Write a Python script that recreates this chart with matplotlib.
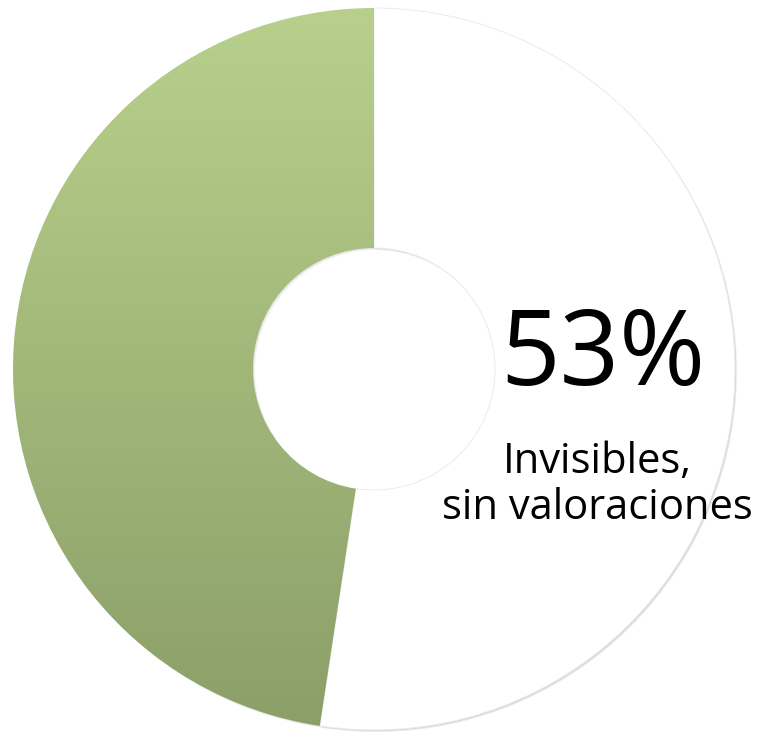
import numpy as np
import matplotlib
matplotlib.use("Agg")
import matplotlib.pyplot as plt
from matplotlib.patches import Wedge
from matplotlib.colors import LinearSegmentedColormap

labels = ["Invisibles, sin valoraciones", "Con valoraciones"]
values = [52.4, 47.6]
pct_label = "53%"
sub_label = "Invisibles,\nsin valoraciones"

W, H = 761, 735
fig = plt.figure(figsize=(W / 100, H / 100), dpi=100)
ax = fig.add_axes([0, 0, 1, 1])
ax.set_xlim(0, W)
ax.set_ylim(0, H)
ax.axis("off")

cx, cy = 374, H - 369
R, r = 361, 121
width = R - r

total = sum(values)
white_deg = 360 * values[0] / total
green_deg = 360 * values[1] / total

g_start, g_end = 90, 90 + green_deg
w_start, w_end = 90 - white_deg, 90

for dx, dy, a in [(2, -2, 0.08), (1, -1, 0.10)]:
    sh = Wedge((cx + dx, cy + dy), R, w_start, w_end, width=width,
               facecolor="#000000", alpha=a, edgecolor="none", zorder=1)
    ax.add_patch(sh)
    sh2 = Wedge((cx + dx, cy + dy), R, g_start, g_end, width=width,
                facecolor="#000000", alpha=a * 0.6, edgecolor="none", zorder=1)
    ax.add_patch(sh2)

white = Wedge((cx, cy), R, w_start, w_end, width=width,
              facecolor="white", edgecolor="#ebebeb", linewidth=0.7, zorder=2)
ax.add_patch(white)

green = Wedge((cx, cy), R, g_start, g_end, width=width,
              facecolor="none", edgecolor="none", zorder=3)
ax.add_patch(green)
cmap = LinearSegmentedColormap.from_list("g", ["#8b9f68", "#b8d08c"])
grad = np.linspace(0, 1, 256).reshape(-1, 1)
im = ax.imshow(grad, cmap=cmap, origin="lower", aspect="auto",
               extent=[cx - R, cx + R, cy - R, cy + R], zorder=3)
im.set_clip_path(green)

ax.text(603, H - 358, pct_label, ha="center", va="center",
        fontsize=75, family="Open Sans", color="black", zorder=5)
ax.text(597, H - 485, sub_label, ha="center", va="center",
        fontsize=30, family="Open Sans", color="black", linespacing=1.15, zorder=5)

fig.savefig("out.png", dpi=100, facecolor="white")
